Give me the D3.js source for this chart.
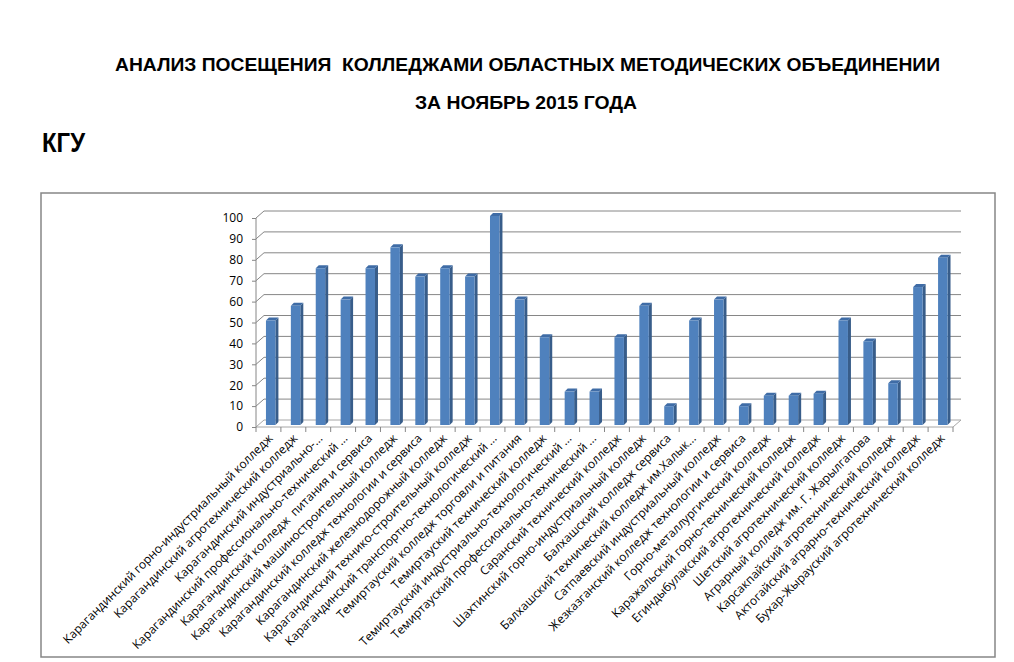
<!DOCTYPE html>
<html>
<head>
<meta charset="utf-8">
<script src="https://cdn.jsdelivr.net/npm/d3@7"></script>
<style>
  body { margin: 0; background: #fff; }
  svg { display: block; }
</style>
</head>
<body>
<svg id="chart" width="1014" height="662"></svg>
<script>
// data
const colleges = [
  "Карагандинский горно-индустриальный колледж",
  "Карагандинский агротехнический колледж",
  "Карагандинский индустриально-...",
  "Карагандинский профессионально-технический ...",
  "Карагандинский колледж  питания и сервиса",
  "Карагандинский машиностроительный колледж",
  "Карагандинский колледж технологии и сервиса",
  "Карагандинский железнодорожный колледж",
  "Карагандинский технико-строительный колледж",
  "Карагандинский транспортно-технологический ...",
  "Темиртауский колледж торговли и питания",
  "Темиртауский технический колледж",
  "Темиртауский индустриально-технологический ...",
  "Темиртауский профессионально-технический ...",
  "Саранский технический колледж",
  "Шахтинский горно-индустриальный колледж",
  "Балхашский колледж сервиса",
  "Балхашский технический колледж им.Халык...",
  "Сатпаевский индустриальный колледж",
  "Жезказганский колледж технологии и сервиса",
  "Горно-металлургический колледж",
  "Каражальский горно-технический колледж",
  "Егиндыбулакский агротехнический колледж",
  "Шетский агротехнический колледж",
  "Аграрный колледж им. Г. Жарылгапова",
  "Карсакпайский агротехнический колледж",
  "Актогайский аграрно-технический колледж",
  "Бухар-Жырауский агротехнический колледж"
];
const visits = [50, 57, 75, 60, 75, 85, 71, 75, 71, 100, 60, 42, 16, 16, 42, 57, 9, 50, 60, 9, 14, 14, 15, 50, 40, 20, 66, 80];
const yTicks = [0, 10, 20, 30, 40, 50, 60, 70, 80, 90, 100];

const titleLines = ["АНАЛИЗ ПОСЕЩЕНИЯ  КОЛЛЕДЖАМИ ОБЛАСТНЫХ МЕТОДИЧЕСКИХ ОБЪЕДИНЕНИИ", "ЗА НОЯБРЬ 2015 ГОДА"];
const subTitle = "КГУ";

const svg = d3.select("#chart");
const data = colleges.map((c, i) => ({ name: c, value: visits[i] }));

const headFont = "'Liberation Sans Narrow', 'Arial Narrow', 'Liberation Sans', Arial, sans-serif";

// page titles (condensed bold, squeezed to the width of the original)
svg.append("text")
  .attr("x", 115).attr("y", 71)
  .attr("textLength", 825).attr("lengthAdjust", "spacingAndGlyphs")
  .attr("font-family", headFont)
  .attr("font-weight", "bold").attr("font-size", 18)
  .style("white-space", "pre")
  .text(titleLines[0]);

svg.append("text")
  .attr("x", 415).attr("y", 109)
  .attr("textLength", 222).attr("lengthAdjust", "spacingAndGlyphs")
  .attr("font-family", headFont)
  .attr("font-weight", "bold").attr("font-size", 18)
  .text(titleLines[1]);

svg.append("text")
  .attr("x", 42).attr("y", 152)
  .attr("textLength", 43).attr("lengthAdjust", "spacingAndGlyphs")
  .attr("font-family", headFont)
  .attr("font-weight", "bold").attr("font-size", 28)
  .text(subTitle);

// chart frame
svg.append("rect")
  .attr("x", 41).attr("y", 193).attr("width", 954).attr("height", 464)
  .attr("fill", "#fff").attr("stroke", "#868686").attr("stroke-width", 1.5);

const x = d3.scaleBand().domain(colleges).range([256, 953]);
const y = d3.scaleLinear().domain([0, 100]).range([427, 218]);

const dx = 8, dy = -7;          // depth of the back wall
const gridColor = "#868686";

// gridlines on side wall + back wall
const grid = svg.append("g").attr("fill", "none").attr("stroke", gridColor).attr("stroke-width", 1);
grid.selectAll("path.grid")
  .data(yTicks.filter(t => t > 0))
  .enter().append("path")
  .attr("class", "grid")
  .attr("d", t => `M256,${y(t)}L${256 + dx},${y(t) + dy}L${953 + dx},${y(t) + dy}`);

// floor
grid.append("path")
  .attr("d", `M256,${y(0)}L953,${y(0)}L${953 + dx},${y(0) + dy}L${256 + dx},${y(0) + dy}Z`)
  .attr("stroke", "#a6a6a6");

// y axis
const yAxis = d3.axisLeft(y).tickValues(yTicks).tickSize(4).tickPadding(9);
const ya = svg.append("g").attr("transform", "translate(256,0)").call(yAxis);
ya.select(".domain").attr("stroke", gridColor).attr("d", `M0,${y(0)}V${y(100)}`);
ya.selectAll(".tick line").attr("stroke", gridColor);
ya.selectAll(".tick text")
  .attr("font-family", "'Open Sans', 'Noto Sans', sans-serif")
  .attr("font-size", 12).attr("fill", "#000");

// category ticks
svg.append("g").selectAll("line")
  .data(colleges.concat([null]))
  .enter().append("line")
  .attr("x1", (d, i) => i < colleges.length ? x(d) : 953)
  .attr("x2", (d, i) => i < colleges.length ? x(d) : 953)
  .attr("y1", y(0)).attr("y2", y(0) + 5)
  .attr("stroke", gridColor);

// 3d columns
const bw = x.bandwidth() * 0.38;
const bo = x.bandwidth() * 0.4;
const bd = 3;     // column depth
const lift = 2;   // columns sit a bit behind the front edge

const bars = svg.append("g").selectAll("g.bar").data(data).enter().append("g").attr("class", "bar");

bars.append("path")
  .attr("fill", "#385d8a")
  .attr("d", d => {
    const x0 = x(d.name) + bo + bw, yt = y(d.value) - lift, yb = y(0) - lift;
    return `M${x0},${yt}L${x0 + bd},${yt - bd}L${x0 + bd},${yb - bd}L${x0},${yb}Z`;
  });

bars.append("path")
  .attr("fill", "#3f6ca6")
  .attr("d", d => {
    const x0 = x(d.name) + bo, yt = y(d.value) - lift;
    return `M${x0},${yt}L${x0 + bd},${yt - bd}L${x0 + bw + bd},${yt - bd}L${x0 + bw},${yt}Z`;
  });

bars.append("rect")
  .attr("fill", "#4f81bd")
  .attr("x", d => x(d.name) + bo)
  .attr("y", d => y(d.value) - lift)
  .attr("width", bw)
  .attr("height", d => y(0) - y(d.value));

// rotated category labels
svg.append("g").selectAll("text")
  .data(colleges)
  .enter().append("text")
  .attr("transform", d => `translate(${x(d) + x.bandwidth() / 2 + 5},${y(0) + 12}) rotate(-45)`)
  .attr("text-anchor", "end")
  .attr("font-family", "'Open Sans', 'Noto Sans', sans-serif")
  .attr("font-size", 12)
  .attr("fill", "#000")
  .style("white-space", "pre")
  .text(d => d);
</script>
</body>
</html>
